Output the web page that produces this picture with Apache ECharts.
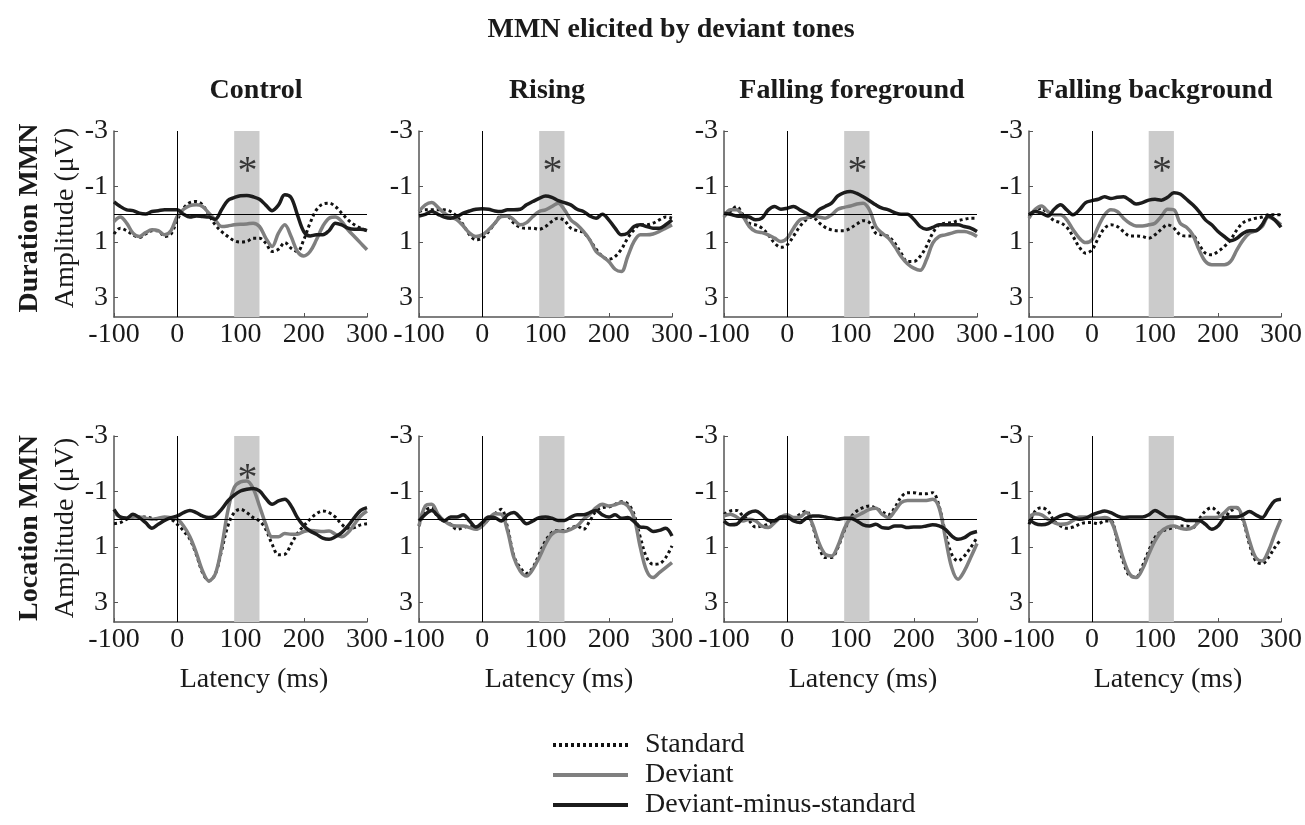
<!DOCTYPE html>
<html>
<head>
<meta charset="utf-8">
<title>MMN elicited by deviant tones</title>
<script src="https://cdn.jsdelivr.net/npm/echarts@6/dist/echarts.min.js"></script>
<style>
  html, body { margin: 0; padding: 0; background: #fff; }
  #main { width: 1305px; height: 825px; }
</style>
</head>
<body>
<div id="main"></div>
<script>
// latency (ms), one sample every 10 ms
var latency = [-100,-90,-80,-70,-60,-50,-40,-30,-20,-10,0,10,20,30,40,50,60,70,80,90,100,110,120,130,140,150,160,170,180,190,200,210,220,230,240,250,260,270,280,290,300];

// Duration MMN (amplitude in uV, negative up)
var durCtrlStd  = [0.71,0.5,0.59,0.74,0.83,0.71,0.59,0.59,0.8,0.71, 0.2,-0.22,-0.42,-0.46,-0.34,0.02,0.38,0.62,0.8,0.95, 1.0,0.98,0.86,0.86,1.04,1.34,1.26,1.02,1.22,1.34, 0.92,0.32,-0.16,-0.37,-0.4,-0.28,-0.04,0.2,0.38,0.5, 0.59];
var durCtrlDev  = [0.26,0.1,0.32,0.68,0.8,0.66,0.56,0.59,0.74,0.59, 0.08,-0.18,-0.31,-0.34,-0.28,-0.04,0.2,0.44,0.42,0.38, 0.36,0.35,0.32,0.44,0.86,1.16,0.68,0.38,0.8,1.34, 1.5,1.34,0.92,0.44,0.14,0.1,0.26,0.56,0.8,1.04, 1.28];
var durCtrlDiff = [-0.45,-0.28,-0.16,-0.13,-0.04,-0.01,-0.1,-0.13,-0.16,-0.16, -0.16,0,0.1,0.06,0.08,0.1,0.18,-0.16,-0.5,-0.6, -0.67,-0.68,-0.63,-0.54,-0.33,-0.13,-0.33,-0.7,-0.6,0.02, 0.62,0.78,0.74,0.74,0.59,0.32,0.38,0.5,0.54,0.54, 0.59];

var durRiseStd  = [-0.1,-0.16,-0.16,-0.16,-0.16,-0.1,0.08,0.38,0.74,0.92, 0.86,0.62,0.32,0.06,0.08,0.32,0.47,0.5,0.5,0.54, 0.44,0.26,0.14,0.23,0.5,0.59,0.66,0.92,1.26,1.52, 1.62,1.52,1.26,0.86,0.56,0.38,0.38,0.32,0.2,0.1, 0.14];
var durRiseDev  = [-0.1,-0.34,-0.42,-0.25,-0.04,0.1,0.2,0.42,0.68,0.8, 0.74,0.56,0.32,0.08,0.06,0.2,0.38,0.3,0.08,-0.1, -0.16,-0.28,-0.4,-0.16,0.2,0.38,0.62,0.92,1.34,1.52, 1.7,1.98,2.06,1.52,0.98,0.74,0.74,0.71,0.62,0.5, 0.38];
var durRiseDiff = [0.06,0,-0.1,0,0.1,0.14,0.08,-0.04,-0.12,-0.18, -0.2,-0.18,-0.12,-0.1,-0.16,-0.16,-0.18,-0.34,-0.46,-0.57, -0.66,-0.61,-0.49,-0.42,-0.34,-0.18,-0.1,0.06,0.14,0, 0.2,0.5,0.74,0.68,0.44,0.38,0.44,0.5,0.5,0.38, 0.2];

var durFgStd  = [0.06,-0.1,-0.28,0.02,0.32,0.38,0.5,0.74,1.04,1.19, 1.1,0.78,0.44,0.2,0.1,0.3,0.47,0.56,0.59,0.59, 0.5,0.35,0.23,0.3,0.68,0.74,0.8,1.04,1.4,1.7, 1.7,1.52,1.16,0.68,0.38,0.32,0.3,0.23,0.18,0.14, 0.14];
var durFgDev  = [0.1,-0.16,-0.16,0.08,0.44,0.62,0.66,0.74,0.86,0.98, 0.86,0.5,0.2,0.14,0.06,0.1,0.14,0.02,-0.18,-0.25, -0.3,-0.37,-0.4,-0.16,0.44,0.68,0.86,1.16,1.52,1.78, 1.94,2.02,1.64,1.04,0.8,0.74,0.68,0.62,0.62,0.68, 0.8];
var durFgDiff = [-0.04,0,0.06,0.08,0.1,0.2,0.14,-0.16,-0.28,-0.18, -0.22,-0.28,-0.16,-0.04,0.06,-0.16,-0.28,-0.4,-0.66,-0.78, -0.82,-0.75,-0.63,-0.49,-0.34,-0.22,-0.16,-0.06,0,0, 0.18,0.44,0.54,0.47,0.38,0.38,0.38,0.38,0.44,0.5, 0.62];

var durBgStd  = [0.08,-0.16,-0.22,0.02,0.23,0.3,0.47,0.8,1.19,1.4, 1.28,0.86,0.5,0.38,0.44,0.62,0.78,0.78,0.8,0.86, 0.74,0.54,0.38,0.5,0.74,0.78,0.78,1.1,1.4,1.46, 1.34,1.16,0.92,0.56,0.3,0.2,0.14,0.1,0.02,0.02, 0.02];
var durBgDev  = [0.14,-0.18,-0.3,-0.1,0.02,0.02,0.2,0.56,0.86,1.02, 0.92,0.44,0.02,-0.16,-0.1,0.14,0.32,0.42,0.42,0.38, 0.32,0.08,-0.18,-0.16,0.32,0.47,0.74,1.28,1.7,1.82, 1.82,1.82,1.7,1.28,0.92,0.68,0.59,0.44,0.1,0.2, 0.38];
var durBgDiff = [0.02,-0.1,-0.04,0.06,-0.18,-0.34,-0.16,0.02,-0.16,-0.42, -0.49,-0.54,-0.63,-0.57,-0.61,-0.63,-0.51,-0.37,-0.42,-0.51, -0.54,-0.51,-0.61,-0.78,-0.73,-0.54,-0.34,-0.1,0.2,0.38, 0.62,0.8,0.95,0.86,0.68,0.59,0.59,0.38,0.06,0.2, 0.47];

// Location MMN
var locCtrlStd  = [0.16,0.12,0,-0.08,-0.08,-0.08,-0.04,0,-0.06,0, 0.18,0.42,0.72,1.26,1.92,2.22,1.98,1.14,0.24,-0.24, -0.36,-0.24,-0.06,0.06,0.36,0.9,1.28,1.26,0.9,0.51, 0.24,0,-0.2,-0.3,-0.24,-0.08,0.18,0.32,0.3,0.2, 0.16];
var locCtrlDev  = [-0.24,-0.08,-0.04,-0.08,-0.08,-0.04,0,-0.04,-0.08,-0.06, 0,0.24,0.63,1.2,1.86,2.22,1.98,1.02,-0.3,-1.14, -1.35,-1.38,-1.11,-0.48,0.18,0.63,0.63,0.51,0.54,0.54, 0.44,0.4,0.42,0.44,0.42,0.54,0.63,0.48,0.18,-0.12, -0.3];
var locCtrlDiff = [-0.36,-0.08,-0.04,-0.18,-0.06,0.12,0.32,0.18,0.04,-0.06, -0.12,-0.24,-0.32,-0.24,-0.12,-0.06,-0.12,-0.36,-0.66,-0.87, -1.02,-1.08,-1.11,-1.02,-0.75,-0.54,-0.66,-0.72,-0.48,-0.06, 0.24,0.42,0.54,0.68,0.72,0.63,0.48,0.24,-0.06,-0.32, -0.42];

var locRiseStd  = [0.24,-0.3,-0.42,-0.06,0.06,0.18,0.36,0.3,0.24,0.32, 0.24,0,-0.2,-0.36,0.3,1.32,1.74,1.95,1.74,1.26, 0.78,0.48,0.4,0.4,0.32,0.24,0.36,0.06,-0.3,-0.42, -0.44,-0.54,-0.63,-0.56,-0.18,0.66,1.38,1.62,1.6,1.38, 0.96];
var locRiseDev  = [0.24,-0.48,-0.54,-0.18,0.06,0.2,0.24,0.24,0.3,0.36, 0.24,0,-0.2,-0.18,0.42,1.38,1.86,2.04,1.8,1.38, 0.9,0.54,0.42,0.44,0.36,0.24,0,-0.18,-0.42,-0.54, -0.48,-0.52,-0.6,-0.48,-0.06,1.02,1.86,2.1,1.92,1.74, 1.56];
var locRiseDiff = [0.06,-0.18,-0.32,-0.12,0.06,-0.08,-0.08,-0.16,0.06,0.28, 0.12,-0.08,-0.06,0.06,-0.16,-0.24,-0.06,0.16,0.06,-0.06, -0.08,-0.04,0.04,0.04,-0.08,-0.16,-0.16,-0.24,-0.32,-0.16, -0.08,-0.16,-0.04,-0.06,0.08,0.28,0.3,0.44,0.4,0.32, 0.6];

var locFgStd  = [-0.18,-0.3,-0.32,-0.12,0.06,0.28,0.24,0.18,0.04,-0.06, -0.08,-0.04,-0.18,-0.3,0.24,0.96,1.38,1.38,1.02,0.42, -0.06,-0.3,-0.42,-0.48,-0.4,-0.28,-0.16,-0.42,-0.8,-0.96, -0.96,-0.92,-0.92,-0.96,-0.48,0.48,1.26,1.5,1.32,1.02, 0.66];
var locFgDev  = [-0.12,-0.18,-0.08,0.06,0,0.06,0.24,0.3,0.12,-0.08, -0.16,-0.06,-0.08,-0.24,0.18,0.84,1.26,1.32,0.96,0.36, -0.04,-0.12,-0.24,-0.36,-0.4,-0.18,-0.06,-0.3,-0.6,-0.68, -0.68,-0.68,-0.68,-0.72,-0.42,0.66,1.74,2.16,1.86,1.38, 0.87];
var locFgDiff = [0.06,0.2,0.18,-0.06,-0.24,-0.3,-0.16,0.04,0.06,-0.08, -0.08,0.06,0.12,-0.04,-0.12,-0.12,-0.08,-0.04,0,-0.04, -0.04,0.06,0.2,0.24,0.18,0.3,0.32,0.24,0.24,0.3, 0.28,0.28,0.24,0.2,0.24,0.36,0.6,0.72,0.66,0.51, 0.44];

var locBgStd  = [0.18,-0.3,-0.42,-0.3,0.06,0.24,0.32,0.28,0.18,0.12, 0.12,0.16,0.06,0.06,0.78,1.56,2.04,2.08,1.68,1.14, 0.66,0.44,0.36,0.3,0.24,0.24,0.3,0,-0.3,-0.42, -0.24,-0.08,-0.3,-0.4,0.06,0.9,1.5,1.6,1.38,1.02, 0.72];
var locBgDev  = [-0.08,-0.2,-0.16,0,0.12,0.18,0.16,0.04,-0.08,-0.08, -0.04,-0.04,-0.06,0.06,0.66,1.44,1.98,2.1,1.8,1.26, 0.78,0.44,0.28,0.24,0.32,0.36,0.3,0.08,-0.06,-0.06, -0.08,-0.24,-0.42,-0.42,0,0.78,1.38,1.5,1.14,0.54, 0];
var locBgDiff = [0,0.16,0.2,0.16,0,-0.12,-0.18,-0.08,0,-0.04, -0.16,-0.24,-0.3,-0.24,-0.12,-0.06,-0.08,-0.08,-0.08,-0.16, -0.32,-0.2,-0.08,-0.08,-0.04,0.04,0.04,0.04,0.18,0.36, 0.24,-0.04,-0.08,-0.08,-0.16,-0.28,-0.16,-0.06,-0.36,-0.66, -0.72];

var columnTitles = ['Control', 'Rising', 'Falling foreground', 'Falling background'];
var rowTitles = ['Duration MMN', 'Location MMN'];
var seriesNames = ['Standard', 'Deviant', 'Deviant-minus-standard'];
var yTicks = [-3, -1, 1, 3];
var band = [90, 130];            // shaded analysis window (ms)
var starLatency = 111;
var starAmplitude = [-1.5, -1.5, -1.5, -1.5, -1.45, null, null, null];

var panels = [
	[durCtrlStd, durCtrlDev, durCtrlDiff],
	[durRiseStd, durRiseDev, durRiseDiff],
	[durFgStd, durFgDev, durFgDiff],
	[durBgStd, durBgDev, durBgDiff],
	[locCtrlStd, locCtrlDev, locCtrlDiff],
	[locRiseStd, locRiseDev, locRiseDiff],
	[locFgStd, locFgDev, locFgDiff],
	[locBgStd, locBgDev, locBgDiff]
];

var FONT = '"Liberation Serif", "Times New Roman", serif';
var INK = '#1a1a1a';
var gridLeft = [114, 419, 724, 1029];
var gridTop = [131, 436];
var lineColors = ['#111111', '#7f7f7f', '#1c1c1c'];

var grids = [], xAxes = [], yAxes = [], series = [], graphics = [];

function pairs(vals) {
	var out = [];
	for (var k = 0; k < latency.length; k++) out.push([latency[k], vals[k]]);
	return out;
}

for (var i = 0; i < panels.length; i++) {
	var row = Math.floor(i / 4), col = i % 4;
	grids.push({ left: gridLeft[col], top: gridTop[row], width: 253, height: 186 });

	xAxes.push({
		gridIndex: i, type: 'value', min: -100, max: 300, interval: 100,
		axisLine: { onZero: false, lineStyle: { color: '#555', width: 1.5 } },
		axisTick: { inside: true, length: 4, lineStyle: { color: '#555' } },
		axisLabel: { fontFamily: FONT, fontSize: 28, color: INK, margin: 4, showMinLabel: true, showMaxLabel: true },
		splitLine: { show: false }
	});
	yAxes.push({
		gridIndex: i, type: 'value', inverse: true, min: -3, max: 3.7,
		axisLine: { show: true, onZero: false, lineStyle: { color: '#555', width: 1.5 } },
		axisTick: { show: true, inside: true, length: 4, customValues: yTicks, lineStyle: { color: '#555' } },
		axisLabel: { fontFamily: FONT, fontSize: 28, color: INK, margin: 6, customValues: yTicks },
		splitLine: { show: false }
	});

	var p = panels[i];
	series.push({
		name: seriesNames[0], type: 'line', xAxisIndex: i, yAxisIndex: i,
		data: pairs(p[0]), smooth: 0.35, symbol: 'none', silent: true,
		itemStyle: { color: lineColors[0] },
		lineStyle: { color: lineColors[0], width: 3, type: [3, 3] },
		markArea: {
			silent: true, itemStyle: { color: '#cbcbcb' },
			data: [[{ xAxis: band[0] }, { xAxis: band[1] }]]
		},
		markLine: {
			silent: true, symbol: ['none', 'none'], label: { show: false },
			lineStyle: { color: '#000', width: 1, type: 'solid' },
			data: [{ xAxis: 0 }, { yAxis: 0 }]
		}
	});
	series.push({
		name: seriesNames[1], type: 'line', xAxisIndex: i, yAxisIndex: i,
		data: pairs(p[1]), smooth: 0.35, symbol: 'none', silent: true,
		itemStyle: { color: lineColors[1] },
		lineStyle: { color: lineColors[1], width: 3.5 }
	});
	series.push({
		name: seriesNames[2], type: 'line', xAxisIndex: i, yAxisIndex: i,
		data: pairs(p[2]), smooth: 0.35, symbol: 'none', silent: true,
		itemStyle: { color: lineColors[2] },
		lineStyle: { color: lineColors[2], width: 3.5 }
	});
	if (starAmplitude[i] !== null) {
		series.push({
			type: 'scatter', xAxisIndex: i, yAxisIndex: i, silent: true,
			data: [[starLatency, starAmplitude[i]]], symbolSize: 2,
			itemStyle: { color: 'rgba(0,0,0,0)' },
			label: { show: true, position: 'inside', formatter: '*', fontFamily: FONT, fontSize: 40, color: '#111' }
		});
	}
}

function txt(x, y, s, bold, rot) {
	return {
		type: 'text', x: x, y: y, rotation: rot || 0,
		style: {
			text: s, font: (bold ? 'bold ' : '') + '28px ' + FONT, fill: INK,
			align: 'center', verticalAlign: 'middle', textAlign: 'center', textVerticalAlign: 'middle'
		}
	};
}

graphics.push(txt(671, 30, 'MMN elicited by deviant tones', true));
var colTitleX = [256, 547, 852, 1155];
var latencyX = [254, 559, 863, 1168];
for (var c = 0; c < 4; c++) {
	graphics.push(txt(colTitleX[c], 91, columnTitles[c], true));
	graphics.push(txt(latencyX[c], 680, 'Latency (ms)', false));
}
var rowLabelY = [218, 528];
for (var r = 0; r < 2; r++) {
	graphics.push(txt(30, rowLabelY[r], rowTitles[r], true, Math.PI / 2));
	graphics.push(txt(66, rowLabelY[r], 'Amplitude (\u03bcV)', false, Math.PI / 2));
}

var myChart = echarts.init(document.getElementById('main'));
var option = {
	animation: false,
	backgroundColor: '#fff',
	grid: grids,
	xAxis: xAxes,
	yAxis: yAxes,
	legend: {
		data: seriesNames, orient: 'vertical', left: 551, top: 731, height: 100,
		padding: 0, itemWidth: 75, itemHeight: 14, itemGap: 2, selectedMode: false,
		itemStyle: { opacity: 0 },
		lineStyle: { width: 4 },
		textStyle: { fontFamily: FONT, fontSize: 28, color: INK, padding: [0, 0, 0, 12] }
	},
	graphic: graphics,
	series: series
};
myChart.setOption(option);
</script>
</body>
</html>
